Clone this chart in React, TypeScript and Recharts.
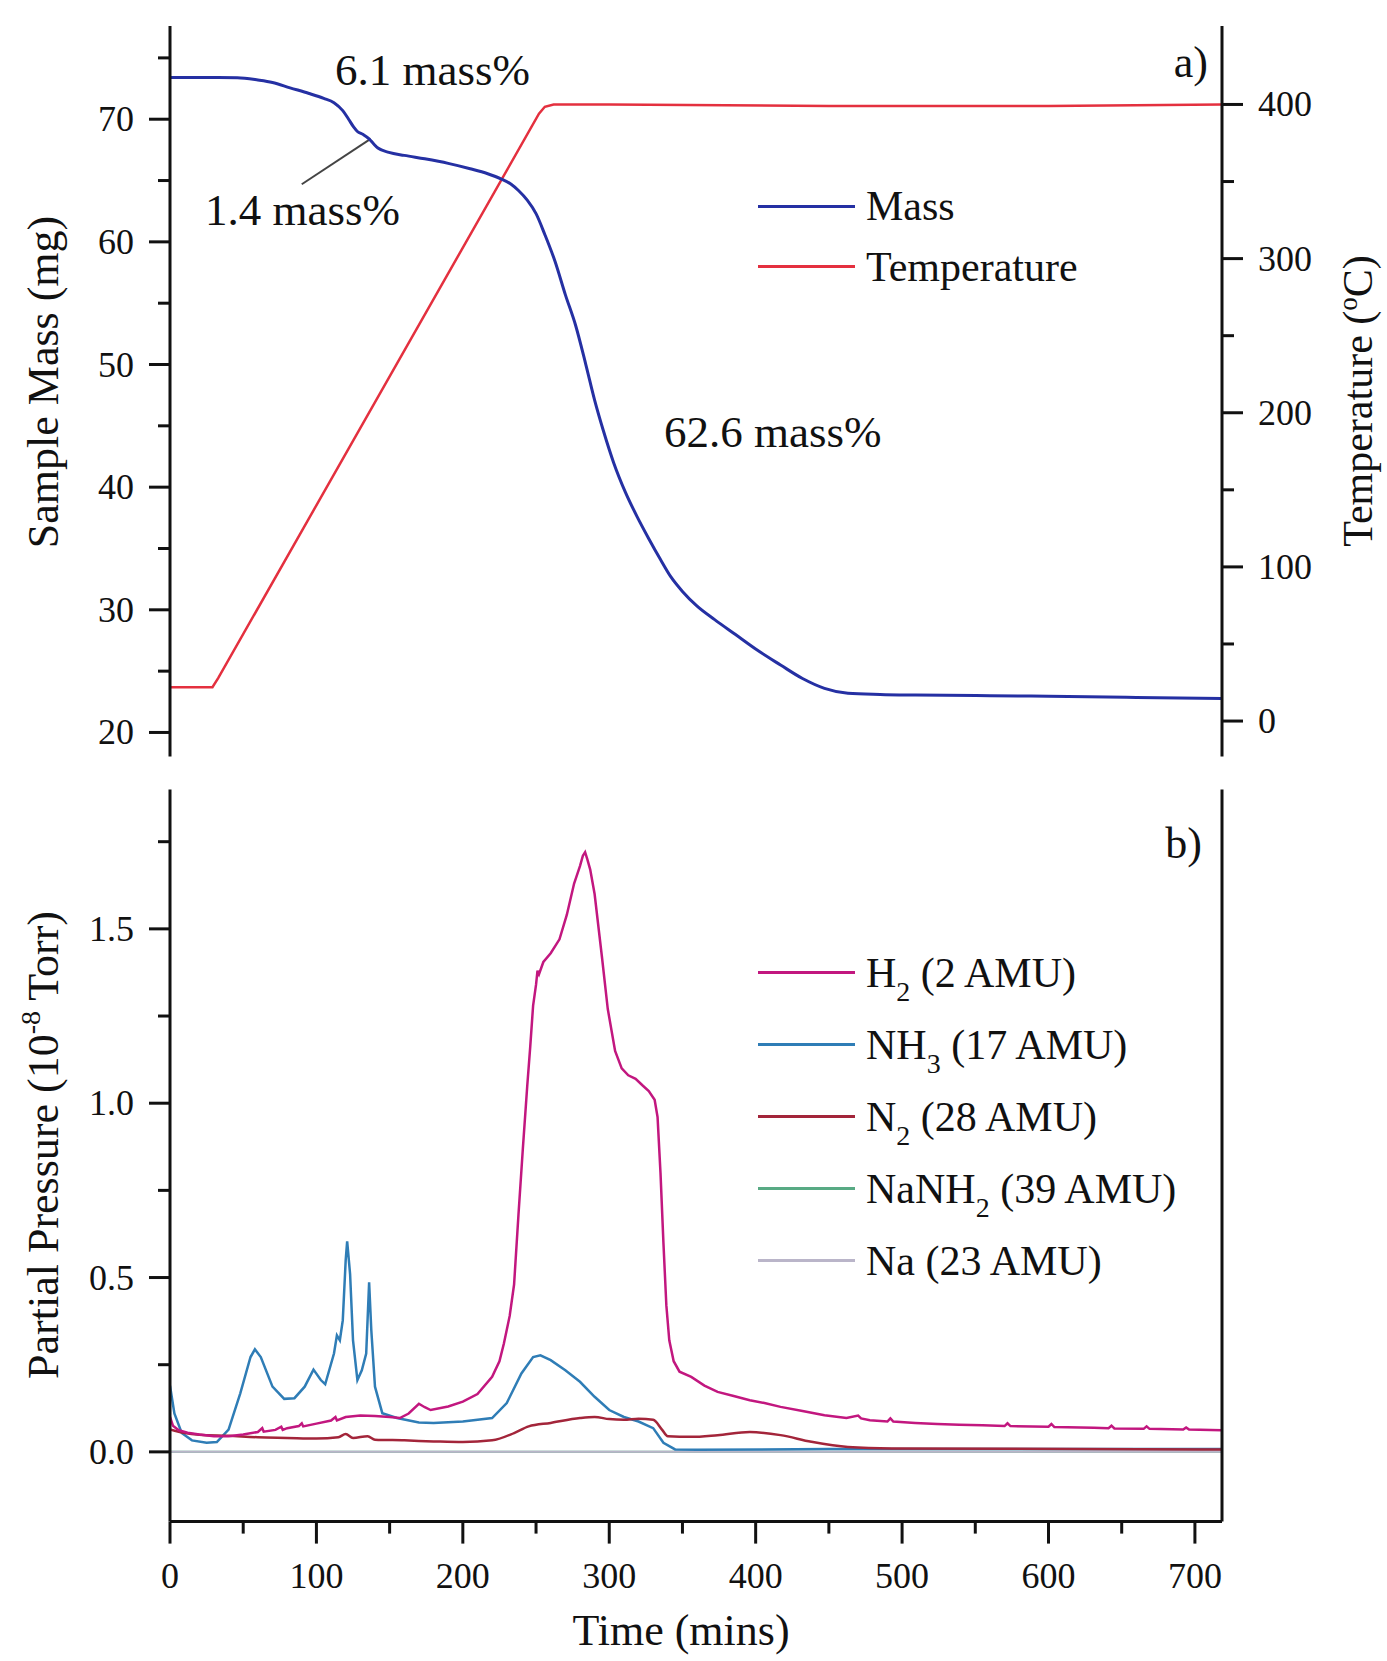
import React from 'react';
import { LineChart, Line, XAxis, YAxis, Legend, ReferenceLine } from 'recharts';

const FONT = '"Liberation Serif", "Times New Roman", serif';
const INK = '#111';

// ---- panel a) thermogravimetry: [time (min), value] ----
const MASS_MG: [number, number][] = [
  [0, 73.4], [20, 73.4], [46, 73.38], [60, 73.2], [70, 73.0], [82, 72.56], [95, 72.1],
  [105, 71.7], [112, 71.35], [118, 70.7], [122, 70.0], [125.5, 69.35], [128, 69.0],
  [132, 68.75], [136, 68.4], [139, 68.0], [142, 67.65], [149.5, 67.3], [160, 67.05],
  [174, 66.77], [190, 66.4], [205, 65.96], [217, 65.55], [226, 65.14], [233, 64.7],
  [238, 64.19], [244, 63.4], [250, 62.3], [256, 60.6], [263, 58.4], [270, 55.7],
  [277, 53.2], [284, 50.0], [290, 47.1], [296, 44.6], [303, 42.0], [311, 39.6],
  [319, 37.6], [327, 35.8], [335, 34.1], [342, 32.7], [350, 31.5], [360, 30.3],
  [372, 29.2], [386, 28.0], [400, 26.8], [417, 25.5], [432, 24.4], [447, 23.6],
  [463, 23.2], [485, 23.1], [509, 23.05], [560, 23.0], [600, 22.95], [660, 22.85], [719, 22.76],
];

const TEMPERATURE_C: [number, number][] = [
  [0, 22], [29, 22], [33, 28], [252, 394], [256, 398.5], [262, 400],
  [300, 400], [450, 399], [600, 399], [719, 400],
];

// ---- panel b) evolved gas partial pressures (1e-8 Torr) ----
const H2_P: [number, number][] = [
  [0, 0.1], [2, 0.075], [6, 0.062], [12, 0.055], [20, 0.05], [30, 0.045], [40, 0.045],
  [50, 0.05], [60, 0.057], [63, 0.068], [64, 0.058], [72, 0.063], [76, 0.072], [77, 0.063],
  [80, 0.068], [88, 0.074], [90, 0.082], [91, 0.073], [100, 0.081], [110, 0.09],
  [113, 0.1], [114, 0.09], [120, 0.1], [130, 0.104], [140, 0.103], [150, 0.1],
  [157, 0.097], [163, 0.11], [170, 0.138], [174, 0.128], [178, 0.12], [190, 0.13],
  [200, 0.144], [210, 0.166], [220, 0.215], [225, 0.26], [228, 0.31], [232, 0.39],
  [235, 0.48], [238, 0.68], [241, 0.87], [244, 1.05], [246, 1.16], [248, 1.28],
  [250, 1.34], [251, 1.38], [252, 1.37], [255, 1.405], [260, 1.43], [266, 1.47],
  [271, 1.54], [276, 1.63], [280, 1.68], [282, 1.71], [283.5, 1.72], [285, 1.7],
  [287, 1.67], [290, 1.6], [295, 1.42], [299, 1.27], [304, 1.15], [308.5, 1.1],
  [313, 1.08], [318, 1.07], [323, 1.05], [327, 1.035], [331, 1.01], [333, 0.96],
  [335, 0.8], [337, 0.6], [339, 0.42], [341, 0.32], [344, 0.26], [348, 0.23],
  [356, 0.215], [365, 0.19], [374, 0.172], [385, 0.16], [396, 0.148], [406, 0.14],
  [417, 0.129], [432, 0.117], [447, 0.105], [462, 0.097], [470, 0.104], [472, 0.096],
  [478, 0.091], [490, 0.087], [492, 0.096], [494, 0.087], [509, 0.083], [524, 0.08],
  [539, 0.078], [555, 0.076], [570, 0.074], [572, 0.082], [574, 0.074], [600, 0.072],
  [602, 0.08], [604, 0.071], [631, 0.069], [641, 0.068], [643, 0.075], [645, 0.067],
  [665, 0.066], [667, 0.073], [669, 0.066], [692, 0.064], [694, 0.07], [696, 0.064], [719, 0.062],
];

const NH3_P: [number, number][] = [
  [0, 0.19], [3, 0.11], [8, 0.054], [15, 0.033], [25, 0.026], [32, 0.028], [40, 0.064],
  [48, 0.168], [55, 0.272], [58, 0.294], [62, 0.272], [70, 0.187], [78, 0.152],
  [85, 0.154], [92, 0.187], [98, 0.236], [103, 0.206], [106, 0.194], [112, 0.282],
  [114, 0.334], [116, 0.32], [118, 0.377], [120, 0.55], [121, 0.604], [123, 0.51],
  [125, 0.32], [128, 0.206], [131, 0.234], [134, 0.282], [136, 0.486], [137.5, 0.348],
  [140, 0.187], [145, 0.111], [155, 0.097], [170, 0.084], [180, 0.083], [200, 0.087],
  [220, 0.097], [230, 0.14], [240, 0.225], [248, 0.272], [253, 0.277], [260, 0.263],
  [270, 0.234], [280, 0.201], [290, 0.158], [300, 0.12], [310, 0.1], [320, 0.087],
  [330, 0.068], [337, 0.026], [345, 0.007], [360, 0.006], [450, 0.008], [719, 0.008],
];

const N2_P: [number, number][] = [
  [0, 0.064], [10, 0.054], [20, 0.049], [40, 0.046], [60, 0.042], [80, 0.04], [100, 0.038],
  [115, 0.042], [120, 0.051], [125, 0.04], [135, 0.045], [140, 0.035], [160, 0.033],
  [180, 0.03], [200, 0.028], [220, 0.033], [235, 0.054], [245, 0.073], [260, 0.083],
  [280, 0.097], [290, 0.1], [300, 0.094], [310, 0.092], [320, 0.095], [330, 0.092],
  [336, 0.064], [340, 0.045], [356, 0.043], [374, 0.048], [396, 0.057], [417, 0.048],
  [438, 0.029], [463, 0.014], [493, 0.01], [719, 0.007],
];

const NANH2_P: [number, number][] = [[0, 0], [719, 0]];
const NA_P: [number, number][] = [[0, 0], [719, 0]];

// axis ticks
const TIME_TICKS = [0, 50, 100, 150, 200, 250, 300, 350, 400, 450, 500, 550, 600, 650, 700];
const MASS_TICKS = [20, 25, 30, 35, 40, 45, 50, 55, 60, 65, 70, 75];
const TEMP_TICKS = [0, 50, 100, 150, 200, 250, 300, 350, 400];
const PRESSURE_TICKS = [0, 0.25, 0.5, 0.75, 1.0, 1.25, 1.5, 1.75];

const TIME_DOMAIN: [number, number] = [0, 718.5];
const MASS_DOMAIN: [number, number] = [18.04, 77.6];
const TEMP_DOMAIN: [number, number] = [-23, 450.9];
const PRESSURE_DOMAIN: [number, number] = [-0.2, 1.9];

const rows = (pairs: [number, number][]) => pairs.map(([t, v]) => ({ t, v }));

const COLORS = {
  mass: '#2530a3',
  temp: '#e4303f',
  h2: '#c2177f',
  nh3: '#2f7db6',
  n2: '#a3253a',
  nanh2: '#58aa84',
  na: '#bab5c9',
};

const isMajor = (v: number, step: number) => Math.abs(v / step - Math.round(v / step)) < 1e-6;

const makeYTick = (side: 'left' | 'right', step: number, fmt: (v: number) => string) => (props: any) => {
  const { x, y, payload } = props;
  const v = payload.value as number;
  const major = isMajor(v, step);
  const len = major ? 21 : 12;
  const dir = side === 'left' ? -1 : 1;
  return (
    <g>
      <line x1={x} x2={x + dir * len} y1={y} y2={y} stroke={INK} strokeWidth={3} />
      {major && (
        <text
          x={x + dir * (len + 15)}
          y={y}
          textAnchor={side === 'left' ? 'end' : 'start'}
          dominantBaseline="central"
          fontFamily={FONT}
          fontSize={36}
          fill={INK}
        >
          {fmt(v)}
        </text>
      )}
    </g>
  );
};

const TimeTick = (props: any) => {
  const { x, y, payload } = props;
  const v = payload.value as number;
  const major = isMajor(v, 100);
  const len = major ? 22 : 12;
  return (
    <g>
      <line x1={x} x2={x} y1={y} y2={y + len} stroke={INK} strokeWidth={3} />
      {major && (
        <text x={x} y={y + 54} textAnchor="middle" dominantBaseline="central" fontFamily={FONT} fontSize={36} fill={INK}>
          {v}
        </text>
      )}
    </g>
  );
};

const MassTick = makeYTick('left', 10, (v) => String(v));
const TempTick = makeYTick('right', 100, (v) => String(v));
const PressureTick = makeYTick('left', 0.5, (v) => v.toFixed(1));

const axisStroke = { stroke: INK, strokeWidth: 3 };

type LegendSpec = { name: string; base: string; sub?: string; rest: string };

const MASS_LEGEND: LegendSpec[] = [
  { name: 'Mass', base: 'Mass', rest: '' },
  { name: 'Temperature', base: 'Temperature', rest: '' },
];

const GAS_LEGEND: LegendSpec[] = [
  { name: 'H2', base: 'H', sub: '2', rest: ' (2 AMU)' },
  { name: 'NH3', base: 'NH', sub: '3', rest: ' (17 AMU)' },
  { name: 'N2', base: 'N', sub: '2', rest: ' (28 AMU)' },
  { name: 'NaNH2', base: 'NaNH', sub: '2', rest: ' (39 AMU)' },
  { name: 'Na', base: 'Na', rest: ' (23 AMU)' },
];

const makeLegend = (specs: LegendSpec[], rowHeight: number) => (props: any) => {
  const payload = [...(props.payload || [])];
  const order = specs.map((s) => s.name);
  payload.sort((a: any, b: any) => order.indexOf(a.value) - order.indexOf(b.value));
  return (
    <div style={{ fontFamily: FONT }}>
      {payload.map((item: any) => {
        const spec = specs.find((s) => s.name === item.value)!;
        return (
          <div key={item.value} style={{ display: 'flex', alignItems: 'center', height: rowHeight }}>
            <div style={{ width: 97, height: 0, borderTop: `3px solid ${item.color}` }} />
            <div style={{ marginLeft: 11, fontSize: 42, color: INK, whiteSpace: 'nowrap', lineHeight: 1 }}>
              {spec.base}
              {spec.sub && (
                <span style={{ fontSize: 28, position: 'relative', top: 14 }}>{spec.sub}</span>
              )}
              {spec.rest}
            </div>
          </div>
        );
      })}
    </div>
  );
};

const MassLegend = makeLegend(MASS_LEGEND, 60.4);
const GasLegend = makeLegend(GAS_LEGEND, 72);

const lineProps = { dot: false, activeDot: false, isAnimationActive: false };

function ThermoPanel() {
  return (
    <LineChart width={1387} height={780} margin={{ top: 26, right: 0, bottom: 23.5, left: 0 }}>
      <XAxis
        xAxisId="t"
        type="number"
        dataKey="t"
        domain={TIME_DOMAIN}
        allowDataOverflow
        ticks={[]}
        tick={false}
        tickLine={false}
        axisLine={axisStroke}
        height={0}
      />
      <XAxis
        xAxisId="top"
        orientation="top"
        type="number"
        dataKey="t"
        domain={TIME_DOMAIN}
        allowDataOverflow
        ticks={[]}
        tick={false}
        tickLine={false}
        axisLine={axisStroke}
        height={0}
      />
      <YAxis
        yAxisId="mass"
        orientation="left"
        width={170}
        type="number"
        domain={MASS_DOMAIN}
        allowDataOverflow
        ticks={MASS_TICKS}
        interval={0}
        tickSize={0}
        tickMargin={0}
        tickLine={false}
        tick={MassTick}
        axisLine={axisStroke}
      />
      <YAxis
        yAxisId="temp"
        orientation="right"
        width={165}
        type="number"
        domain={TEMP_DOMAIN}
        allowDataOverflow
        ticks={TEMP_TICKS}
        interval={0}
        tickSize={0}
        tickMargin={0}
        tickLine={false}
        tick={TempTick}
        axisLine={axisStroke}
      />
      <ReferenceLine
        xAxisId="t"
        yAxisId="mass"
        segment={[{ x: 90, y: 64.7 }, { x: 137, y: 68.4 }]}
        stroke="#444"
        strokeWidth={2}
      />
      <Line {...lineProps} type="linear" xAxisId="t" yAxisId="temp" data={rows(TEMPERATURE_C)} dataKey="v" name="Temperature" stroke={COLORS.temp} strokeWidth={2.5} />
      <Line {...lineProps} type="monotone" xAxisId="t" yAxisId="mass" data={rows(MASS_MG)} dataKey="v" name="Mass" stroke={COLORS.mass} strokeWidth={3} />
      <Legend
        layout="vertical"
        align="center"
        verticalAlign="middle"
        wrapperStyle={{ left: 758, top: 176, width: 420 }}
        content={MassLegend}
      />
    </LineChart>
  );
}

function GasPanel() {
  return (
    <LineChart width={1387} height={901} margin={{ top: 29.4, right: 0, bottom: 39.4, left: 0 }}>
      <XAxis
        xAxisId="t"
        type="number"
        dataKey="t"
        domain={TIME_DOMAIN}
        allowDataOverflow
        ticks={TIME_TICKS}
        interval={0}
        tickSize={0}
        tickMargin={0}
        tickLine={false}
        tick={TimeTick}
        axisLine={axisStroke}
        height={100}
      />
      <XAxis
        xAxisId="top"
        orientation="top"
        type="number"
        dataKey="t"
        domain={TIME_DOMAIN}
        allowDataOverflow
        ticks={[]}
        tick={false}
        tickLine={false}
        axisLine={axisStroke}
        height={0}
      />
      <YAxis
        yAxisId="p"
        orientation="left"
        width={170}
        type="number"
        domain={PRESSURE_DOMAIN}
        allowDataOverflow
        ticks={PRESSURE_TICKS}
        interval={0}
        tickSize={0}
        tickMargin={0}
        tickLine={false}
        tick={PressureTick}
        axisLine={axisStroke}
      />
      <YAxis
        yAxisId="frame"
        orientation="right"
        width={165}
        type="number"
        domain={PRESSURE_DOMAIN}
        allowDataOverflow
        ticks={[]}
        tick={false}
        tickLine={false}
        axisLine={axisStroke}
      />
      <Line {...lineProps} type="linear" xAxisId="t" yAxisId="p" data={rows(NANH2_P)} dataKey="v" name="NaNH2" stroke={COLORS.nanh2} strokeWidth={2} />
      <Line {...lineProps} type="linear" xAxisId="t" yAxisId="p" data={rows(NA_P)} dataKey="v" name="Na" stroke={COLORS.na} strokeWidth={2} />
      <Line {...lineProps} type="linear" xAxisId="t" yAxisId="p" data={rows(NH3_P)} dataKey="v" name="NH3" stroke={COLORS.nh3} strokeWidth={2.5} />
      <Line {...lineProps} type="monotone" xAxisId="t" yAxisId="p" data={rows(N2_P)} dataKey="v" name="N2" stroke={COLORS.n2} strokeWidth={2.5} />
      <Line {...lineProps} type="linear" xAxisId="t" yAxisId="p" data={rows(H2_P)} dataKey="v" name="H2" stroke={COLORS.h2} strokeWidth={2.5} />
      <Legend
        layout="vertical"
        align="center"
        verticalAlign="middle"
        wrapperStyle={{ left: 758, top: 176.7, width: 460 }}
        content={GasLegend}
      />
    </LineChart>
  );
}

const textStyle = { fontFamily: FONT, fill: INK };

export default function App() {
  return (
    <div style={{ position: 'absolute', left: 0, top: 0, width: 1387, height: 1661, background: '#fff' }}>
      <div style={{ position: 'absolute', left: 0, top: 0 }}>
        <ThermoPanel />
      </div>
      <div style={{ position: 'absolute', left: 0, top: 760 }}>
        <GasPanel />
      </div>
      <svg
        width={1387}
        height={1661}
        style={{ position: 'absolute', left: 0, top: 0, pointerEvents: 'none' }}
      >
        {/* panel a) annotations */}
        <text x={335} y={85} fontSize={45} {...textStyle}>6.1 mass%</text>
        <text x={205} y={225} fontSize={45} {...textStyle}>1.4 mass%</text>
        <text x={664} y={447} fontSize={45} {...textStyle}>62.6 mass%</text>
        <text x={1208} y={77} fontSize={44} textAnchor="end" {...textStyle}>a)</text>
        <text x={1202} y={858} fontSize={44} textAnchor="end" {...textStyle}>b)</text>

        {/* axis titles */}
        <text x={681} y={1645} fontSize={44} textAnchor="middle" {...textStyle}>Time (mins)</text>
        <text transform="translate(58 382) rotate(-90)" fontSize={44} textAnchor="middle" {...textStyle}>
          Sample Mass (mg)
        </text>
        <text transform="translate(1372 401) rotate(-90)" fontSize={42} textAnchor="middle" {...textStyle}>
          Temperature (<tspan dy={-15} fontSize={27}>o</tspan>
          <tspan dy={15}>C)</tspan>
        </text>
        <text transform="translate(58 1145) rotate(-90)" fontSize={44} textAnchor="middle" {...textStyle}>
          Partial Pressure (10<tspan dy={-18} fontSize={28}>-8</tspan>
          <tspan dy={18}> Torr)</tspan>
        </text>
      </svg>
    </div>
  );
}
